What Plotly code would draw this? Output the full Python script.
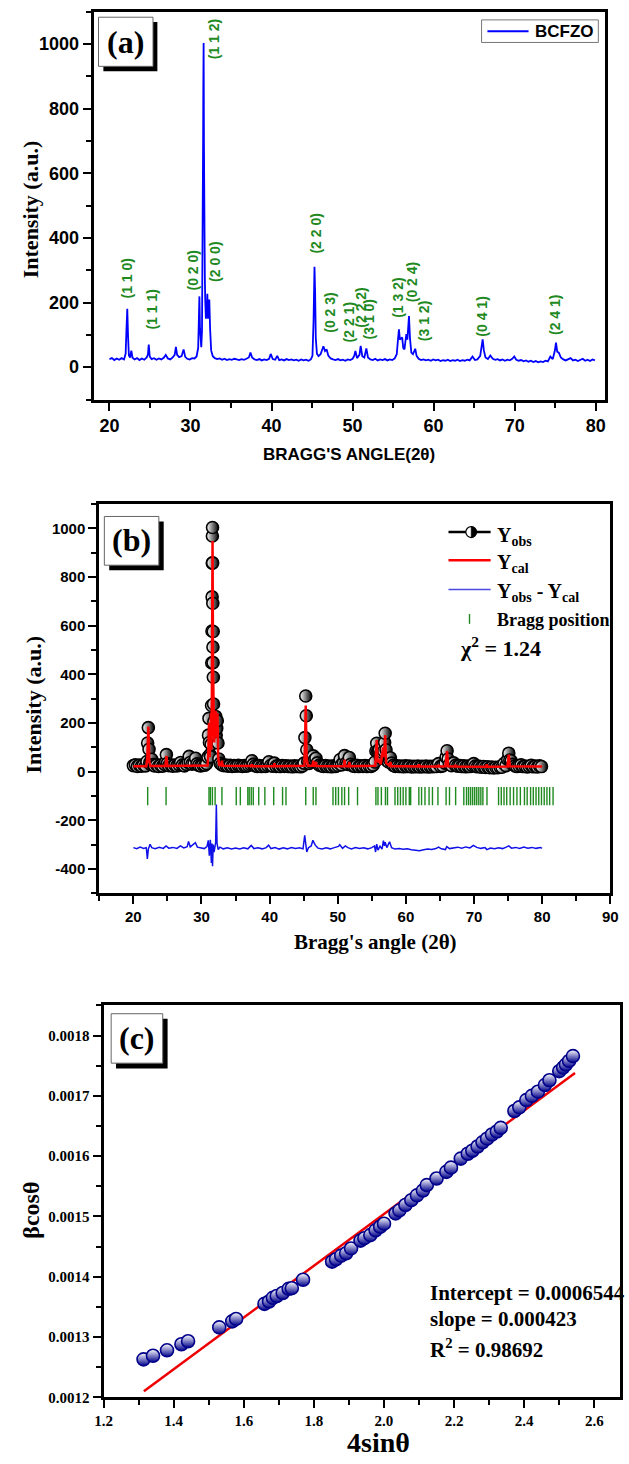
import plotly.graph_objects as go

W, H = 629, 1464

# ---------------- data ----------------
# (a)/(b) observed XRD pattern: (2theta, intensity)
xrd_points = [
    (20.0, 25), (20.3, 28), (20.6, 22), (20.9, 27), (21.2, 23), (21.5, 28), (21.8, 24), (22.0, 42),
    (22.1, 118), (22.2, 181), (22.3, 92), (22.4, 36), (22.55, 30), (22.7, 51), (22.85, 29), (23.1, 24),
    (23.4, 28), (23.7, 22), (24.0, 27), (24.3, 23), (24.6, 30), (24.75, 40), (24.85, 70), (24.97, 33),
    (25.2, 25), (25.5, 28), (25.8, 23), (26.1, 27), (26.4, 24), (26.7, 29), (26.95, 38), (27.2, 27),
    (27.5, 24), (27.8, 30), (28.05, 38), (28.2, 63), (28.35, 38), (28.6, 31), (28.9, 34), (29.15, 55),
    (29.35, 32), (29.6, 26), (29.9, 24), (30.2, 28), (30.5, 27), (30.75, 33), (30.95, 60), (31.03, 150),
    (31.1, 219), (31.17, 120), (31.25, 70), (31.33, 62), (31.42, 112), (31.48, 272), (31.51, 447),
    (31.54, 578), (31.56, 718), (31.58, 857), (31.6, 968), (31.62, 1003), (31.64, 858), (31.66, 692),
    (31.68, 512), (31.7, 448), (31.72, 576), (31.74, 388), (31.77, 278), (31.82, 205), (31.9, 150),
    (32.0, 172), (32.08, 227), (32.16, 150), (32.24, 178), (32.32, 209), (32.42, 118), (32.55, 52),
    (32.75, 34), (33.0, 28), (33.3, 25), (33.6, 27), (33.9, 23), (34.2, 26), (34.5, 22), (34.8, 25),
    (35.1, 23), (35.4, 26), (35.7, 24), (36.0, 22), (36.3, 25), (36.6, 23), (36.9, 26), (37.2, 30),
    (37.4, 45), (37.6, 30), (37.9, 24), (38.2, 22), (38.5, 25), (38.8, 21), (39.1, 24), (39.4, 22),
    (39.7, 26), (39.9, 41), (40.15, 25), (40.45, 23), (40.7, 35), (40.95, 22), (41.25, 24), (41.55, 21),
    (41.85, 25), (42.15, 22), (42.45, 24), (42.75, 21), (43.05, 23), (43.35, 20), (43.65, 24), (43.95, 21),
    (44.25, 23), (44.55, 20), (44.85, 24), (45.05, 35), (45.18, 140), (45.3, 311), (45.38, 230),
    (45.46, 90), (45.6, 42), (45.8, 34), (46.05, 40), (46.25, 55), (46.4, 65), (46.6, 50), (46.8, 55),
    (47.0, 36), (47.3, 27), (47.6, 24), (47.9, 22), (48.2, 25), (48.5, 21), (48.8, 23), (49.1, 20),
    (49.4, 24), (49.7, 22), (50.0, 26), (50.2, 35), (50.35, 50), (50.55, 28), (50.85, 38), (51.0, 66),
    (51.2, 34), (51.45, 30), (51.7, 58), (51.9, 30), (52.2, 24), (52.5, 22), (52.8, 26), (53.1, 21),
    (53.4, 24), (53.7, 22), (54.0, 25), (54.3, 21), (54.6, 24), (54.9, 22), (55.2, 27), (55.45, 40),
    (55.6, 85), (55.72, 117), (55.84, 85), (55.98, 88), (56.12, 92), (56.25, 60), (56.4, 55), (56.52, 80),
    (56.64, 102), (56.76, 85), (56.88, 120), (56.96, 158), (57.08, 90), (57.25, 45), (57.45, 40),
    (57.6, 50), (57.73, 57), (57.9, 35), (58.15, 26), (58.45, 22), (58.75, 24), (59.05, 21), (59.35, 23),
    (59.65, 20), (59.95, 24), (60.25, 21), (60.55, 23), (60.85, 19), (61.15, 22), (61.45, 20), (61.75, 23),
    (62.05, 19), (62.35, 22), (62.65, 20), (62.95, 23), (63.25, 19), (63.55, 22), (63.85, 20), (64.15, 23),
    (64.45, 21), (64.8, 33), (65.1, 22), (65.4, 24), (65.75, 35), (65.9, 60), (66.05, 86), (66.2, 52),
    (66.4, 30), (66.7, 25), (67.0, 36), (67.3, 26), (67.6, 23), (67.9, 25), (68.2, 21), (68.5, 24),
    (68.8, 20), (69.1, 23), (69.4, 21), (69.7, 26), (69.95, 33), (70.2, 23), (70.5, 20), (70.8, 22),
    (71.1, 18), (71.4, 21), (71.7, 17), (72.0, 20), (72.3, 16), (72.6, 19), (72.9, 15), (73.2, 18),
    (73.5, 16), (73.8, 20), (74.1, 18), (74.4, 33), (74.7, 25), (74.95, 50), (75.1, 76), (75.25, 48),
    (75.45, 45), (75.7, 30), (76.0, 24), (76.3, 21), (76.6, 24), (76.9, 28), (77.2, 21), (77.5, 23),
    (77.8, 19), (78.1, 22), (78.4, 26), (78.7, 20), (79.0, 23), (79.3, 19), (79.6, 24), (79.9, 21),
]
two_theta = [p[0] for p in xrd_points]
intensity = [p[1] for p in xrd_points]

# Miller index labels (a)
hkl_text = ["(1 1 0)", "(1 1 1)", "(0 2 0)", "(1 1 2)", "(2 0 0)", "(2 2 0)", "(0 2 3)", "(2 2 1)",
            "(2 2 2)", "(3 1 0)", "(1 3 2)", "(0 2 4)", "(3 1 2)", "(0 4 1)", "(2 4 1)"]
hkl_x = [22.15, 25.2, 30.35, 33.0, 33.0, 45.44, 47.2, 49.5, 51.0, 52.0, 55.58, 57.26, 58.8, 66.0, 75.0]
hkl_y = [206, 109, 232, 946, 257, 344, 100, 69, 115, 79, 146, 196, 74, 89, 94]

# (b) calculated profile
ycal_points = [
    (20.0, 22), (21.9, 22), (22.05, 60), (22.2, 185), (22.35, 40), (22.5, 23), (24.7, 23), (24.85, 65),
    (25.0, 23), (30.9, 25), (31.0, 80), (31.1, 200), (31.2, 60), (31.3, 120), (31.38, 240), (31.45, 90),
    (31.52, 300), (31.62, 948), (31.7, 420), (31.78, 240), (31.86, 120), (31.95, 200), (32.08, 250),
    (32.18, 140), (32.26, 190), (32.34, 240), (32.45, 60), (32.6, 28), (32.9, 25), (33.0, 45), (33.1, 24),
    (37.3, 23), (37.4, 30), (37.5, 22), (40.6, 22), (40.7, 35), (40.8, 22), (45.1, 24), (45.2, 120),
    (45.3, 272), (45.42, 60), (45.6, 24), (46.3, 25), (46.4, 45), (46.5, 25), (46.7, 24), (46.8, 40),
    (46.9, 23), (50.9, 22), (51.0, 50), (51.1, 22), (51.6, 22), (51.7, 40), (51.8, 22), (55.5, 24),
    (55.62, 80), (55.72, 130), (55.84, 40), (56.1, 45), (56.3, 30), (56.64, 100), (56.8, 60),
    (56.96, 150), (57.1, 35), (57.6, 25), (57.73, 40), (57.85, 23), (61.8, 21), (61.9, 30), (62.0, 21),
    (64.7, 21), (64.8, 28), (64.9, 21), (65.8, 22), (65.95, 60), (66.05, 85), (66.2, 22), (67.2, 21),
    (67.3, 28), (67.4, 21), (71.8, 20), (71.9, 30), (72.0, 20), (74.9, 21), (75.0, 45), (75.1, 70),
    (75.25, 22), (80.0, 21),
]
cal_x = [p[0] for p in ycal_points]
cal_y = [p[1] for p in ycal_points]

# (b) difference curve (Yobs - Ycal, plotted offset)
diff_points = [
    (20.0, -312), (20.5, -316), (21.0, -310), (21.5, -315), (21.9, -312), (22.05, -358), (22.2, -318),
    (22.45, -298), (22.7, -312), (23.2, -316), (23.8, -311), (24.4, -315), (24.8, -305), (25.2, -314),
    (25.8, -311), (26.4, -315), (26.9, -305), (27.4, -313), (27.9, -308), (28.1, -287), (28.35, -309),
    (28.7, -300), (29.1, -292), (29.4, -310), (29.9, -313), (30.4, -316), (30.8, -308), (31.0, -282),
    (31.15, -345), (31.3, -280), (31.45, -375), (31.55, -295), (31.62, -388), (31.72, -300),
    (31.85, -330), (31.95, -310), (32.08, -290), (32.18, -135), (32.28, -295), (32.45, -320),
    (32.7, -310), (33.2, -317), (33.8, -313), (34.4, -318), (35.0, -314), (35.6, -318), (36.2, -313),
    (36.8, -317), (37.3, -303), (37.7, -316), (38.3, -313), (38.9, -317), (39.5, -312), (39.85, -302),
    (40.2, -316), (40.8, -312), (41.4, -318), (42.0, -313), (42.6, -317), (43.2, -312), (43.8, -316),
    (44.4, -313), (44.9, -317), (45.15, -262), (45.3, -300), (45.45, -330), (45.7, -312), (46.1, -305),
    (46.35, -282), (46.7, -302), (47.1, -314), (47.7, -318), (48.3, -313), (48.9, -317), (49.5, -312),
    (50.1, -307), (50.3, -300), (50.7, -315), (51.1, -305), (51.5, -312), (52.0, -317), (52.6, -312),
    (53.2, -316), (53.8, -313), (54.4, -317), (55.0, -312), (55.4, -305), (55.55, -330), (55.72, -298),
    (55.9, -322), (56.2, -306), (56.5, -318), (56.7, -283), (56.85, -305), (56.96, -290), (57.2, -312),
    (57.6, -288), (57.9, -312), (58.4, -318), (59.0, -316), (59.6, -319), (60.2, -317), (60.8, -321),
    (61.4, -323), (62.0, -325), (62.6, -321), (63.2, -318), (63.8, -320), (64.4, -316), (64.8, -310),
    (65.2, -317), (65.8, -320), (66.0, -308), (66.4, -316), (67.0, -313), (67.6, -310), (68.2, -314),
    (68.8, -309), (69.4, -313), (69.9, -303), (70.4, -311), (71.0, -315), (71.6, -312), (71.9, -320),
    (72.4, -314), (73.0, -317), (73.6, -313), (74.2, -316), (74.8, -309), (75.1, -305), (75.5, -314),
    (76.1, -311), (76.7, -315), (77.3, -310), (77.9, -314), (78.5, -311), (79.1, -315), (79.7, -312),
    (80.0, -314),
]
diff_x = [p[0] for p in diff_points]
diff_y = [p[1] for p in diff_points]

# (b) Bragg reflection positions
bragg_positions = [22.1, 24.8, 31.1, 31.3, 31.6, 32.0, 33.0, 35.1, 35.7, 36.8, 37.0, 37.3, 37.6, 38.4,
                   39.3, 40.6, 41.9, 42.4, 45.3, 46.4, 46.8, 49.3, 49.7, 50.1, 50.6, 51.0, 51.6, 52.9,
                   55.6, 55.9, 56.4, 57.0, 57.3, 58.4, 58.8, 59.2, 59.6, 60.0, 60.5, 60.7, 61.9, 62.3,
                   62.8, 63.4, 63.9, 64.7, 65.9, 66.4, 67.3, 68.5, 68.9, 69.2, 69.5, 69.8, 70.1, 70.4,
                   70.7, 71.0, 71.3, 71.9, 73.6, 74.0, 74.4, 74.8, 75.3, 75.8, 76.3, 76.8, 77.4, 77.8,
                   78.3, 78.7, 79.1, 79.5, 79.9, 80.3, 80.7, 81.1, 81.6]
bragg_level = -100

# (c) Williamson-Hall data
wh_x = [1.314, 1.341, 1.381, 1.422, 1.441, 1.530, 1.567, 1.578, 1.659, 1.672, 1.683, 1.694, 1.711,
        1.728, 1.737, 1.769, 1.852, 1.863, 1.878, 1.892, 1.906, 1.933, 1.944, 1.961, 1.976, 1.989,
        2.000, 2.033, 2.044, 2.061, 2.078, 2.094, 2.111, 2.122, 2.150, 2.178, 2.191, 2.219, 2.239,
        2.252, 2.267, 2.281, 2.294, 2.308, 2.322, 2.333, 2.372, 2.386, 2.406, 2.422, 2.439, 2.459,
        2.472, 2.500, 2.511, 2.519, 2.528, 2.539]
wh_y = [0.001263, 0.001269, 0.001278, 0.001288, 0.001293, 0.001316, 0.001326, 0.001330, 0.001355,
        0.001359, 0.001365, 0.001368, 0.001373, 0.001380, 0.001381, 0.001395, 0.001425, 0.001429,
        0.001435, 0.001439, 0.001447, 0.001460, 0.001464, 0.001469, 0.001477, 0.001483, 0.001488,
        0.001505, 0.001510, 0.001519, 0.001527, 0.001535, 0.001543, 0.001552, 0.001563, 0.001574,
        0.001581, 0.001596, 0.001604, 0.001609, 0.001616, 0.001623, 0.001629, 0.001636, 0.001641,
        0.001647, 0.001675, 0.001681, 0.001693, 0.001700, 0.001707, 0.001718, 0.001726, 0.001741,
        0.001747, 0.001752, 0.001758, 0.001766]
fit_x = [1.315, 2.545]
fit_y = [0.001210, 0.001738]

y2_ticks = [-400, -200, 0, 200, 400, 600, 800, 1000]
y2_ticktext = ["-400", "-200", "0", "200", "400", "600", "800", "1000"]

# ---------------- helpers ----------------
def fx(px):
    return px / W


def fy(py):
    return 1 - py / H


SANS = "Liberation Sans"
SERIF = "Liberation Serif"
GREEN = "#1f8a1f"


def axis_style(domain, rng, dtick, minor_dtick, tickfont, anchor, tick0=0, **kw):
    d = dict(domain=domain, range=rng, anchor=anchor, dtick=dtick, tick0=tick0,
             showline=True, linecolor="black", linewidth=3, mirror=True,
             ticks="outside", ticklen=8, tickwidth=2, tickcolor="black",
             showgrid=False, zeroline=False, tickfont=tickfont,
             minor=dict(dtick=minor_dtick, ticks="outside", ticklen=5, tickwidth=2,
                        tickcolor="black", showgrid=False))
    d.update(kw)
    return d


def ann(text, x, y, size, family, xanchor="center", yanchor="middle", angle=0,
        color="black", weight="bold"):
    return dict(text=text, x=fx(x), y=fy(y), xref="paper", yref="paper", showarrow=False,
                xanchor=xanchor, yanchor=yanchor, textangle=angle,
                font=dict(family=family, size=size, color=color, weight=weight))


def rect(x0, y0, x1, y1, fill, line_color=None, lw=0):
    return dict(type="rect", xref="paper", yref="paper", x0=fx(x0), x1=fx(x1),
                y0=fy(y1), y1=fy(y0), fillcolor=fill, layer="above",
                line=dict(color=line_color or fill, width=lw))


def hline(x0, x1, y, color, width):
    return dict(type="line", xref="paper", yref="paper", x0=fx(x0), x1=fx(x1),
                y0=fy(y), y1=fy(y), layer="above", line=dict(color=color, width=width))


def vline(x, y0, y1, color, width):
    return dict(type="line", xref="paper", yref="paper", x0=fx(x), x1=fx(x),
                y0=fy(y1), y1=fy(y0), layer="above", line=dict(color=color, width=width))


def half_disc(cx, cy, r, color):
    """Right half of a circle (pixel coords) drawn as a bezier path in paper coords."""
    k = 0.5523 * r
    pts = [(cx, cy - r), (cx + k, cy - r), (cx + r, cy - k), (cx + r, cy),
           (cx + r, cy + k), (cx + k, cy + r), (cx, cy + r)]
    path = "M {:.5f},{:.5f} C {:.5f},{:.5f} {:.5f},{:.5f} {:.5f},{:.5f} C {:.5f},{:.5f} {:.5f},{:.5f} {:.5f},{:.5f} Z".format(
        *[v for p in pts for v in (fx(p[0]), fy(p[1]))])
    return dict(type="path", xref="paper", yref="paper", path=path, fillcolor=color,
                layer="above", line=dict(color=color, width=0.5))


def circle(cx, cy, r, fill, line_color, lw):
    return dict(type="circle", xref="paper", yref="paper", x0=fx(cx - r), x1=fx(cx + r),
                y0=fy(cy + r), y1=fy(cy - r), fillcolor=fill, layer="above",
                line=dict(color=line_color, width=lw))


# ---------------- figure ----------------
fig = go.Figure()

# (a)
fig.add_trace(go.Scatter(x=two_theta, y=intensity, mode="lines", name="BCFZO",
                         line=dict(color="#0000ff", width=1.8), xaxis="x", yaxis="y"))

# (b)
fig.add_trace(go.Scatter(x=two_theta, y=intensity, mode="markers", name="Yobs",
                         marker=dict(symbol="circle", size=12, color="white",
                                     gradient=dict(type="horizontal", color="black"),
                                     line=dict(color="black", width=1.6)),
                         xaxis="x2", yaxis="y2"))
fig.add_trace(go.Scatter(x=cal_x, y=cal_y, mode="lines", name="Ycal",
                         line=dict(color="#ff0000", width=2.5), xaxis="x2", yaxis="y2"))
fig.add_trace(go.Scatter(x=diff_x, y=diff_y, mode="lines", name="Yobs - Ycal",
                         line=dict(color="#1010e8", width=1.5), xaxis="x2", yaxis="y2"))
fig.add_trace(go.Scatter(x=bragg_positions, y=[bragg_level] * len(bragg_positions), mode="markers",
                         name="Bragg position",
                         marker=dict(symbol="line-ns", size=13, line=dict(width=1.4, color=GREEN)),
                         xaxis="x2", yaxis="y2"))

# (c)
fig.add_trace(go.Scatter(x=fit_x, y=fit_y, mode="lines", name="fit",
                         line=dict(color="#ee0000", width=2.5), xaxis="x3", yaxis="y3"))
fig.add_trace(go.Scatter(x=wh_x, y=wh_y, mode="markers", name="data",
                         marker=dict(symbol="circle", size=13, color="white",
                                     gradient=dict(type="vertical", color="#00008b"),
                                     line=dict(color="#00008b", width=1.6)),
                         xaxis="x3", yaxis="y3"))

tf_a = dict(family=SANS, size=18, color="black", weight="bold")
tf_b = dict(family=SANS, size=15, color="black", weight="bold")
tf_c = dict(family=SERIF, size=15, color="black", weight="bold")

layout = dict(
    width=W, height=H, margin=dict(l=0, r=0, t=0, b=0),
    paper_bgcolor="white", plot_bgcolor="white", showlegend=False,
    xaxis=axis_style([fx(87), fx(613)], [18.05, 81.2], 10, 5, tf_a, "y"),
    yaxis=axis_style([fy(401.7), fy(11.7)], [-100, 1100], 200, 100, tf_a, "x"),
    xaxis2=axis_style([fx(92.8), fx(618)], [15, 90], 10, 5, tf_b, "y2"),
    yaxis2=axis_style([fy(898.3), fy(506.7)], [-500, 1100], 200, 100, tf_b, "x2",
                      tickmode="array", tickvals=y2_ticks, ticktext=y2_ticktext),
    xaxis3=axis_style([fx(97.2), fx(627.5)], [1.2, 2.672], 0.2, 0.1, tf_c, "y3", tick0=1.2,
                      tickformat=".1f"),
    yaxis3=axis_style([fy(1405), fy(1011)], [0.0012, 0.00185], 0.0001, 0.00005, tf_c, "x3",
                      tick0=0.0012, tickformat=".4f"),
)
fig.update_layout(**layout)

annotations = []
shapes = []

# ---- panel (a) decorations
shapes += [rect(97, 22, 152.5, 71.7, "black"), rect(92, 17.3, 148, 66.7, "white", "#666666", 1)]
annotations.append(ann("(a)", 120, 42, 32, SERIF))
shapes += [rect(485.7, 20, 605.7, 42.7, "white", "#777777", 1), hline(491.7, 534, 31.5, "#0000ff", 2)]
annotations.append(ann("BCFZO", 539, 31.5, 17, SANS, xanchor="left"))
annotations.append(ann("Intensity (a.u.)", 22, 210, 22, SERIF, angle=-90))
annotations.append(ann("BRAGG'S ANGLE(2\u03b8)", 349, 456.7, 17, SANS))
for t, xv, yv in zip(hkl_text, hkl_x, hkl_y):
    annotations.append(dict(text=t, x=xv, y=yv, xref="x", yref="y", showarrow=False,
                            textangle=-90, xanchor="center", yanchor="bottom",
                            font=dict(family=SANS, size=14, color=GREEN, weight="bold")))

# ---- panel (b) decorations
shapes += [rect(103, 524.3, 159, 573.3, "black"), rect(98, 519.3, 154, 568.3, "white", "#666666", 1)]
annotations.append(ann("(b)", 126, 543, 32, SERIF))
annotations.append(ann("Intensity (a.u.)", 25, 708, 22, SERIF, angle=-90))
annotations.append(ann("Bragg's angle (2\u03b8)", 377, 946.7, 21, SERIF))
shapes += [hline(451.7, 495, 535, "black", 2.5),
           circle(475, 535, 5.5, "white", "black", 1.2), half_disc(475, 535, 5.5, "black"),
           hline(451.7, 495, 563.3, "#ff0000", 2.5),
           hline(451.7, 495, 592.7, "#4a4ae0", 1.5), vline(473.3, 617.3, 627.3, GREEN, 1.4)]
annotations.append(ann("Y<sub>obs</sub>", 500, 539, 20, SERIF, xanchor="left"))
annotations.append(ann("Y<sub>cal</sub>", 500, 567, 20, SERIF, xanchor="left"))
annotations.append(ann("Y<sub>obs</sub> - Y<sub>cal</sub>", 500, 596, 20, SERIF, xanchor="left"))
annotations.append(ann("Bragg position", 499.3, 623.3, 18, SERIF, xanchor="left"))
annotations.append(ann("\u03c7<sup>2</sup> = 1.24", 461.7, 651, 22, SERIF, xanchor="left"))

# ---- panel (c) decorations
shapes += [rect(110, 1024.3, 163, 1074.3, "black"), rect(105, 1019.3, 158, 1069, "white", "#666666", 1)]
annotations.append(ann("(c)", 131.5, 1044, 32, SERIF))
annotations.append(ann("\u03b2cos\u03b8", 23, 1217, 24, SERIF, angle=-90))
annotations.append(ann("4sin\u03b8", 380, 1450, 28, SERIF))
annotations.append(ann("Intercept = 0.0006544", 431, 1300, 21, SERIF, xanchor="left"))
annotations.append(ann("slope = 0.000423", 431, 1326, 21, SERIF, xanchor="left"))
annotations.append(ann("R<sup>2</sup> = 0.98692", 431, 1355.7, 21, SERIF, xanchor="left"))

fig.update_layout(annotations=annotations, shapes=shapes)

fig.write_html("out.html")
